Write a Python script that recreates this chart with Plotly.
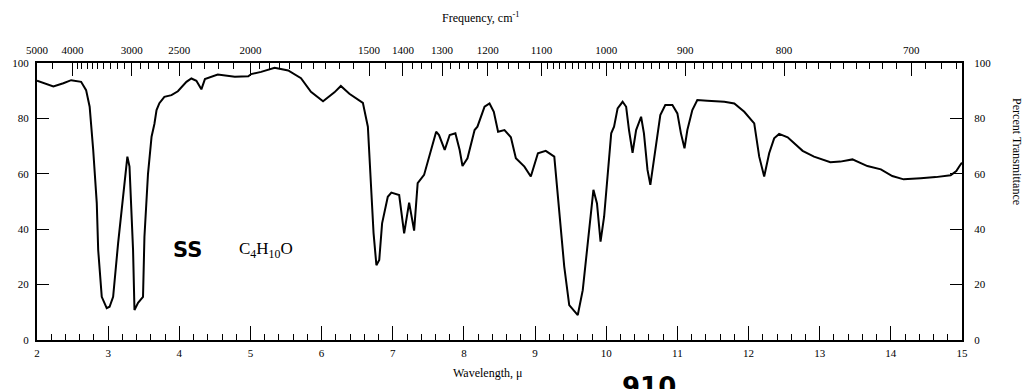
import numpy as np
import plotly.graph_objects as go

# ---- data (wavelength in micrometres, percent transmittance) ----
wavelength = [2.00, 2.23, 2.37, 2.48, 2.62, 2.69, 2.74, 2.79, 2.84, 2.86, 2.91, 2.98, 3.02, 3.07,
              3.14, 3.23, 3.27, 3.30, 3.35, 3.37, 3.42, 3.49, 3.51, 3.56, 3.61, 3.65, 3.68, 3.72,
              3.79, 3.89, 3.98, 4.10, 4.17, 4.24, 4.31, 4.36, 4.54, 4.78, 4.97, 5.01, 5.15, 5.34,
              5.53, 5.71, 5.85, 6.02, 6.18, 6.27, 6.39, 6.58, 6.65, 6.70, 6.73, 6.77, 6.81, 6.85,
              6.93, 6.98, 7.09, 7.16, 7.23, 7.30, 7.35, 7.44, 7.54, 7.61, 7.65, 7.73, 7.80, 7.88,
              7.94, 7.98, 8.05, 8.15, 8.19, 8.29, 8.36, 8.42, 8.48, 8.57, 8.66, 8.73, 8.85, 8.94,
              9.04, 9.15, 9.27, 9.32, 9.41, 9.48, 9.60, 9.67, 9.76, 9.82, 9.87, 9.92, 9.97, 10.02,
              10.07, 10.11, 10.16, 10.23, 10.28, 10.32, 10.37, 10.42, 10.49, 10.53, 10.58, 10.62,
              10.69, 10.76, 10.83, 10.93, 11.00, 11.05, 11.10, 11.14, 11.21, 11.28, 11.42, 11.66,
              11.80, 11.94, 12.08, 12.15, 12.22, 12.29, 12.36, 12.43, 12.55, 12.76, 12.92, 13.15,
              13.29, 13.46, 13.67, 13.86, 14.02, 14.18, 14.42, 14.63, 14.84, 14.92, 14.97, 15.00]
transmittance = [93.6, 91.5, 92.7, 93.8, 93.2, 90.2, 84.2, 68.6, 49.4, 32.5, 15.6, 11.5, 12.0, 15.6,
                 35.0, 56.6, 66.2, 62.6, 32.5, 10.8, 13.4, 15.6, 37.3, 60.0, 73.4, 78.0, 83.0, 85.5,
                 87.8, 88.4, 89.8, 93.2, 94.4, 93.6, 90.5, 94.2, 95.8, 95.0, 95.2, 96.0, 96.8, 98.3,
                 97.3, 94.5, 89.6, 86.2, 89.4, 91.7, 88.9, 85.6, 77.0, 53.0, 38.6, 27.0, 28.9, 42.1,
                 51.7, 53.2, 52.3, 38.5, 49.6, 39.5, 56.6, 59.6, 69.2, 75.2, 74.0, 68.6, 74.0, 74.6,
                 68.6, 62.8, 65.6, 75.8, 77.0, 84.2, 85.4, 82.4, 75.2, 75.8, 73.2, 65.6, 62.6, 59.0,
                 67.4, 68.3, 66.2, 53.0, 26.5, 12.6, 9.0, 18.0, 38.5, 54.2, 49.3, 35.5, 44.5, 60.2,
                 74.6, 77.0, 83.6, 86.0, 84.2, 75.8, 67.6, 75.8, 80.6, 74.6, 61.4, 56.0,
                 68.6, 81.2, 84.8, 84.8, 81.8, 74.6, 69.2, 75.8, 83.0, 86.6, 86.4, 86.0,
                 85.4, 82.4, 78.2, 66.2, 59.0, 67.4, 72.8, 74.4, 73.2, 68.3, 66.2, 64.2,
                 64.4, 65.2, 62.8, 61.6, 59.2, 58.0, 58.4, 58.8, 59.5, 61.0, 63.0, 64.0]

freq_labels = [5000, 4000, 3000, 2500, 2000, 1500, 1400, 1300, 1200, 1100, 1000, 900, 800, 700]
wl_ticks = list(range(2, 16))
pct_ticks = [0, 20, 40, 60, 80, 100]

freq_minor = ([4500] + list(range(3900, 3000, -100)) + list(range(2900, 2500, -100))
              + list(range(2400, 2000, -100)) + list(range(1950, 1500, -50)) + [1450]
              + [1375, 1350, 1325] + list(range(1280, 1200, -20)) + list(range(1180, 1100, -20))
              + list(range(1090, 1000, -10)) + list(range(990, 900, -10))
              + list(range(890, 800, -10)) + list(range(790, 700, -10)) + [690, 680, 670])

W, H = 1027, 389
L, R, T, B = 35, 65, 63, 49
PW, PH = W - L - R, H - T - B

serif = "Liberation Serif"
tickfont = dict(family=serif, size=11, color="black")


def px_x(px):
    return (px - L) / PW


def px_y(py):
    return 1 - (py - T) / PH


fig = go.Figure()
fig.add_trace(go.Scatter(x=wavelength, y=transmittance, mode="lines",
                         line=dict(color="black", width=2), hoverinfo="skip", showlegend=False))
# helper invisible traces to activate the top and right axes
fig.add_trace(go.Scatter(x=[2, 15], y=[0, 100], xaxis="x2", yaxis="y", mode="markers",
                         marker=dict(opacity=0), hoverinfo="skip", showlegend=False))
fig.add_trace(go.Scatter(x=[2, 15], y=[0, 100], xaxis="x", yaxis="y2", mode="markers",
                         marker=dict(opacity=0), hoverinfo="skip", showlegend=False))

axis_common = dict(showgrid=False, zeroline=False, showline=True, linecolor="black",
                   linewidth=2, ticks="inside", tickcolor="black", tickfont=tickfont)

fig.update_layout(
    width=W, height=H,
    margin=dict(l=L, r=R, t=T, b=B, pad=0),
    paper_bgcolor="white", plot_bgcolor="white",
    xaxis=dict(range=[2, 15], tickmode="array", tickvals=wl_ticks,
               ticktext=[str(v) for v in wl_ticks], ticklen=14, tickwidth=1,
               minor=dict(tick0=2, dtick=0.2, ticklen=6, ticks="inside", tickcolor="black"),
               ticklabelstandoff=2, **axis_common),
    xaxis2=dict(range=[2, 15], overlaying="x", side="top", anchor="y",
                tickmode="array", tickvals=[1e4 / f for f in freq_labels],
                ticktext=[str(f) for f in freq_labels], ticklen=13, tickwidth=1,
                minor=dict(tickmode="array", tickvals=[1e4 / f for f in freq_minor],
                           ticklen=6, ticks="inside", tickcolor="black"),
                ticklabelstandoff=3, **axis_common),
    yaxis=dict(range=[0, 100], tickmode="array", tickvals=pct_ticks, ticklen=12,
               tickwidth=1, ticklabelstandoff=4, **axis_common),
    yaxis2=dict(range=[0, 100], overlaying="y", side="right", anchor="x",
                tickmode="array", tickvals=pct_ticks, ticklen=12, tickwidth=1,
                ticklabelstandoff=8, **axis_common),
)

fig.add_annotation(text="Frequency, cm<sup>-1</sup>", xref="paper", yref="paper",
                   x=px_x(480), y=px_y(17), xanchor="center", yanchor="middle",
                   showarrow=False, font=dict(family=serif, size=12, color="black"))
fig.add_annotation(text="Wavelength, \u03bc", xref="paper", yref="paper",
                   x=px_x(486), y=px_y(373), xanchor="center", yanchor="middle",
                   showarrow=False, font=dict(family=serif, size=12, color="black"))
fig.add_annotation(text="Percent Transmittance", xref="paper", yref="paper",
                   x=px_x(1017), y=px_y(152), xanchor="center", yanchor="middle",
                   textangle=90, showarrow=False, font=dict(family=serif, size=12, color="black"))
fig.add_annotation(text="<b>SS</b>", xref="x", yref="y", x=4.12, y=32.5, showarrow=False,
                   font=dict(family="DejaVu Sans", size=21, color="black"))
fig.add_annotation(text="C<sub>4</sub>H<sub>10</sub>O", xref="x", yref="y", x=5.22, y=32.5,
                   showarrow=False, font=dict(family=serif, size=17, color="black"))
fig.add_annotation(text="<b>910</b>", xref="paper", yref="paper",
                   x=px_x(648), y=px_y(370), xanchor="center", yanchor="top",
                   showarrow=False,
                   font=dict(family="DejaVu Sans", size=26, color="black"))

fig.write_html("out.html")
